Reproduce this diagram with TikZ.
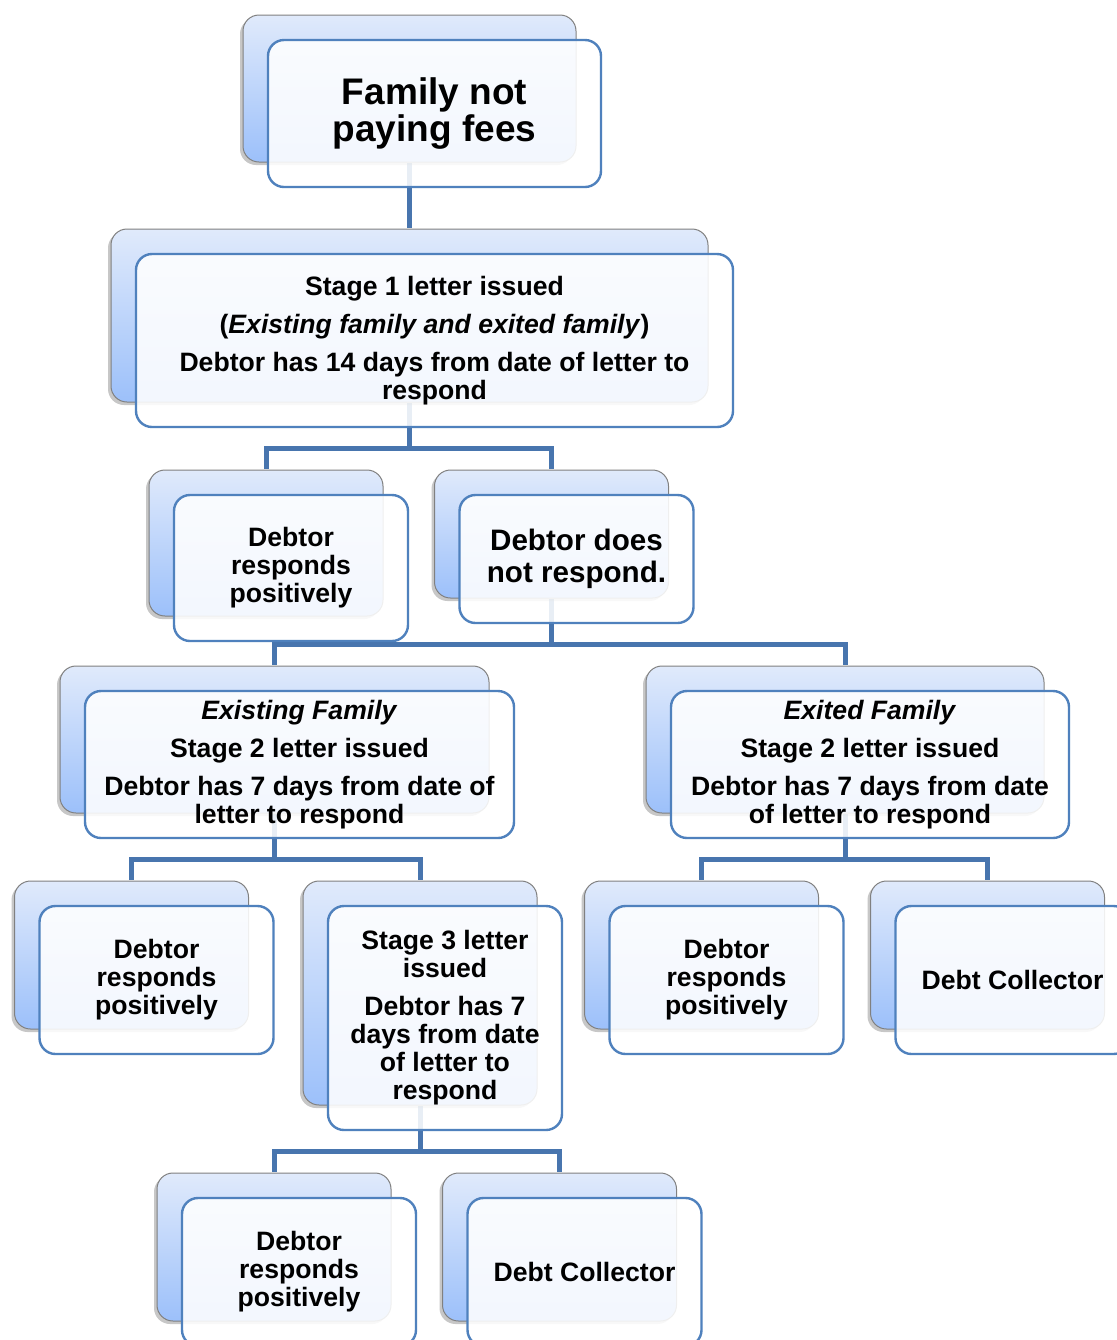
\documentclass[tikz,border=0pt]{standalone}
\usepackage{fontspec}
\setmainfont{Liberation Sans}
\usetikzlibrary{shadows,backgrounds}

\definecolor{cardblue}{RGB}{79,129,189}
\definecolor{linkblue}{RGB}{72,117,174}
\definecolor{backtop}{RGB}{224,234,251}
\definecolor{backbot}{RGB}{156,192,250}

\begin{document}
\begin{tikzpicture}[x=0.5pt,y=-0.5pt,
    card/.style={draw=cardblue, line width=1.2pt, rounded corners=8pt,
      fill=white, fill opacity=.88, text opacity=1, align=center, inner sep=2pt,
      font=\fontsize{13.3}{14}\selectfont\bfseries,
      general shadow={shadow xshift=-14pt, shadow yshift=11pt, fill=black, opacity=.22},
      general shadow={shadow xshift=-12.5pt, shadow yshift=12.5pt, opacity=1,
        top color=backtop, bottom color=backbot, draw=black!50, line width=.5pt}},
    small/.style={minimum width=117pt, minimum height=74pt},
    link/.style={draw=linkblue, line width=2.5pt}]
\useasboundingbox (0,0) rectangle (1117,1340);

% top of the chart
\node[card, minimum width=166.5pt, minimum height=73.5pt,
  font=\fontsize{18.5}{18.5}\selectfont\bfseries] (fees) at (434.5,113.5) {Family not\\paying fees};
\node[card, minimum width=298.5pt, minimum height=86.5pt] (stage1) at (434.5,340.5)
  {Stage 1 letter issued\\[5pt](\textit{Existing family and exited family})\\[5pt]Debtor has 14 days from date of letter to\\respond};

% first answer
\node[card, small, minimum height=73pt] (posA) at (291,568) {Debtor\\responds\\positively};
\node[card, small, minimum height=64pt,
  font=\fontsize{14.8}{16}\selectfont\bfseries] (noresp) at (576.5,559) {Debtor does\\not respond.};

% stage 2
\node[card, minimum width=214.5pt, minimum height=73.5pt] (existing) at (299.5,764.5)
  {\textit{Existing Family}\\[5pt]Stage 2 letter issued\\[5pt]Debtor has 7 days from date of\\letter to respond};
\node[card, minimum width=199pt, minimum height=73.5pt] (exited) at (870,764.5)
  {\textit{Exited Family}\\[5pt]Stage 2 letter issued\\[5pt]Debtor has 7 days from date\\of letter to respond};

\node[card, small] (posB) at (156.5,980) {Debtor\\responds\\positively};
\node[card, small, minimum height=112pt] (stage3) at (445,1018)
  {Stage 3 letter\\issued\\[5pt]Debtor has 7\\days from date\\of letter to\\respond};
\node[card, small] (posC) at (726.5,980) {Debtor\\responds\\positively};
\node[card, small] (collA) at (1012.5,980) {Debt Collector};

% stage 3
\node[card, small] (posD) at (299,1272) {Debtor\\responds\\positively};
\node[card, small] (collB) at (584.5,1272) {Debt Collector};

\begin{pgfonlayer}{background}
  \fill[white] (0,0) rectangle (1117,1340);
  \foreach \a/\b in {fees/stage1, stage1/posA, stage1/noresp, noresp/existing, noresp/exited,
      existing/posB, existing/stage3, exited/posC, exited/collA, stage3/posD, stage3/collB}
    \draw[link] ([shift={(-12.5pt,12.5pt)}]\a.south) -- ++(0,-22.5pt) -| ([shift={(-12.5pt,12.5pt)}]\b.north);
\end{pgfonlayer}
\end{tikzpicture}
\end{document}
